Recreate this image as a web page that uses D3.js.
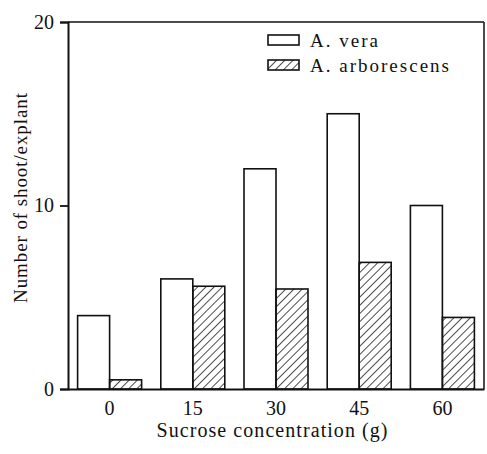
<!DOCTYPE html>
<html>
<head>
<meta charset="utf-8">
<script src="https://cdn.jsdelivr.net/npm/d3@7"></script>
<style>
  body { margin: 0; background: #fff; }
  svg text { font-family: "Liberation Serif", "Times New Roman", serif; fill: #111; }
</style>
</head>
<body>
<div id="chart"></div>
<script>
// values
let concentrations = ["0", "15", "30", "45", "60"];
let seriesNames = ["A. vera", "A. arborescens"];
let veraValues = [4, 6, 12, 15, 10];
let arboValues = [0.5, 5.6, 5.45, 6.9, 3.9];
let yTicks = [0, 10, 20];

let width = 487, height = 454;
let margin = {top: 22, right: 3, bottom: 65, left: 68};
let serif = "'Liberation Serif', 'Times New Roman', serif";

let svg = d3.select("#chart").append("svg")
            .attr("width", width)
            .attr("height", height);

// hatch pattern for A. arborescens
let defs = svg.append("defs");
defs.append("pattern")
    .attr("id", "hatch")
    .attr("patternUnits", "userSpaceOnUse")
    .attr("width", 5.8)
    .attr("height", 5.8)
    .attr("patternTransform", "rotate(45)")
  .append("line")
    .attr("x1", 0).attr("y1", 0)
    .attr("x2", 0).attr("y2", 5.8)
    .attr("stroke", "#111")
    .attr("stroke-width", 1.5);

let x0 = d3.scaleBand()
           .domain(concentrations)
           .range([margin.left, width - margin.right]);
let groupWidth = 64;
let x1 = d3.scaleBand()
           .domain(seriesNames)
           .range([0, groupWidth]);
let y = d3.scaleLinear()
          .domain([0, 20])
          .range([height - margin.bottom, margin.top]);

let rows = concentrations.map(function(c, i){
  return [
    {cat: c, s: seriesNames[0], v: veraValues[i]},
    {cat: c, s: seriesNames[1], v: arboValues[i]}
  ];
}).flat();

// frame: top and right lines
svg.append("line")
   .attr("x1", margin.left).attr("x2", width - margin.right)
   .attr("y1", y(20)).attr("y2", y(20))
   .attr("stroke", "#111").attr("stroke-width", 1.5);
svg.append("line")
   .attr("x1", width - margin.right).attr("x2", width - margin.right)
   .attr("y1", y(20)).attr("y2", y(0))
   .attr("stroke", "#111").attr("stroke-width", 1.5);

// bars
svg.selectAll("rect.bar").data(rows)
   .enter().append("rect")
   .attr("class", "bar")
   .attr("x", function(d){ return x0(d.cat) + (x0.bandwidth() - groupWidth) / 2 + x1(d.s); })
   .attr("y", function(d){ return y(d.v); })
   .attr("width", x1.bandwidth())
   .attr("height", function(d){ return y(0) - y(d.v); })
   .attr("fill", function(d){ return d.s == seriesNames[0] ? "#fff" : "url(#hatch)"; })
   .attr("stroke", "#111")
   .attr("stroke-width", 1.6);

// y axis
let yAxis = d3.axisLeft(y).tickValues(yTicks).tickSize(8).tickPadding(6);
let gy = svg.append("g")
   .attr("transform", "translate(" + margin.left + ",0)")
   .call(yAxis)
   .attr("font-family", serif);
gy.select(".domain").attr("stroke", "#111").attr("stroke-width", 2);
gy.selectAll(".tick line").attr("stroke", "#111").attr("stroke-width", 1.8);
gy.selectAll(".tick text").attr("font-size", 20).attr("fill", "#111");

// x axis
let xAxis = d3.axisBottom(x0).tickSize(0).tickPadding(12);
let gx = svg.append("g")
   .attr("transform", "translate(0," + y(0) + ")")
   .call(xAxis)
   .attr("font-family", serif);
gx.select(".domain").attr("stroke", "#111").attr("stroke-width", 2);
gx.selectAll(".tick text").attr("font-size", 20).attr("fill", "#111");

// axis titles
svg.append("text")
   .attr("x", 272).attr("y", 437)
   .attr("text-anchor", "middle")
   .attr("font-size", 20)
   .attr("textLength", 231)
   .attr("lengthAdjust", "spacing")
   .text("Sucrose concentration (g)");

svg.append("text")
   .attr("transform", "translate(27,198) rotate(-90)")
   .attr("text-anchor", "middle")
   .attr("font-size", 19)
   .attr("textLength", 210)
   .attr("lengthAdjust", "spacing")
   .text("Number of shoot/explant");

// legend
let legendWidths = [68, 139];
let legend = svg.append("g").attr("transform", "translate(268,35)");
seriesNames.forEach(function(name, i){
  let g = legend.append("g").attr("transform", "translate(0," + (i * 25) + ")");
  g.append("rect")
   .attr("width", 31).attr("height", 10)
   .attr("fill", i == 0 ? "#fff" : "url(#hatch)")
   .attr("stroke", "#111").attr("stroke-width", 1.6);
  g.append("text")
   .attr("x", 42).attr("y", 12)
   .attr("font-size", 19)
   .attr("textLength", legendWidths[i])
   .attr("lengthAdjust", "spacing")
   .text(name);
});
</script>
</body>
</html>
